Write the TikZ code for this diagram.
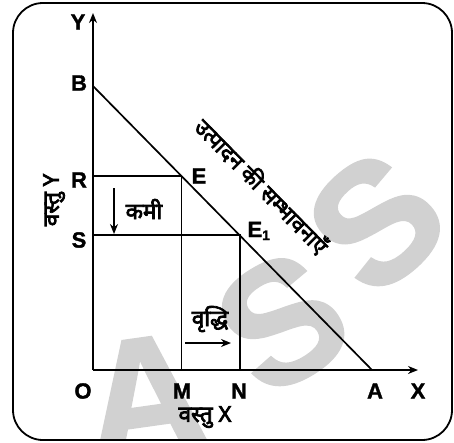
\documentclass[tikz,border=0pt]{standalone}
\usepackage{fontspec}
\setmainfont{Liberation Sans}[BoldFeatures={FakeBold=1.5}]
\newfontfamily\hin[Script=Devanagari,FakeBold=3.4]{Noto Sans}
\usetikzlibrary{arrows.meta}
\begin{document}
\begin{tikzpicture}[x=1pt,y=-1pt,
  lbl/.style={font=\bfseries\fontsize{22}{22}\selectfont, inner sep=0pt},
  hl/.style={font=\hin\fontsize{22.5}{22.5}\selectfont, inner sep=0pt},
  wmk/.style={text=black!18, font=\bfseries\fontsize{170}{170}\selectfont, inner sep=0pt},
  ax/.style={line width=2.8pt},
  thinl/.style={line width=1.6pt},
  tip/.style={-{Stealth[length=10pt,width=8pt]}}
]
\useasboundingbox (0,0) rectangle (454,442);
% watermark
\begin{scope}
\clip[rounded corners=30pt] (13,3) rectangle (452,440);
\node[wmk, rotate=8] (wmA) at (145,397) {A};
\node[wmk, rotate=32] (wmS1) at (282,322) {S};
\node[wmk, rotate=42] (wmS2) at (376,222) {S};
\end{scope}
\draw[line width=1.8pt, rounded corners=30pt] (13,3) rectangle (452,440);
% points
\coordinate (O) at (93,370);
\coordinate (Yt) at (93,13);
\coordinate (Xt) at (418,370);
\coordinate (B) at (93,86);
\coordinate (A) at (372,370);
\coordinate (E) at (181.5,176);
\coordinate (E1) at (240,235);
\coordinate (R) at (93,176);
\coordinate (S) at (93,235);
\coordinate (M) at (181.5,370);
\coordinate (N) at (240,370);
% lines
\draw[thinl] (R) -- (E) -- (M);
\draw[thinl] (S) -- (E1) -- (N);
\draw[line width=1.7pt] (B) -- (A);
\draw[ax, tip] (O) -- (Yt);
\draw[ax, tip] (O) -- (Xt);
% labels
\node[lbl] (lY) at (78,22) {Y};
\node[lbl] (lB) at (79,83) {B};
\node[lbl] (lR) at (79,180) {R};
\node[lbl] (lS) at (79,240) {S};
\node[lbl] (lO) at (83,391) {O};
\node[lbl] (lM) at (182,391) {M};
\node[lbl] (lN) at (239,391) {N};
\node[lbl] (lA) at (375,391) {A};
\node[lbl] (lX) at (418,391) {X};
\node[lbl] (lE) at (199,176) {E};
\node[lbl] (lE1) at (259,231) {E\textsubscript{\fontsize{14}{14}\selectfont 1}};
\node[hl, rotate=90] (vy) at (54,200) {वस्तु {\bfseries\fontsize{22}{22}\selectfont Y}};
\node[hl] (vx) at (205,417) {वस्तु {\bfseries\fontsize{22}{22}\selectfont X}};
\node[hl, font=\hin\fontsize{22}{22}\selectfont, rotate=-45.5] (ppc) at (262,186) {उत्पादन की सम्भावनाएँ};
\node[hl] (kami) at (144,209) {कमी};
\node[hl] (vriddhi) at (210,319) {वृद्धि};
\coordinate (d1) at (114,188);
\coordinate (d2) at (114,234);
\coordinate (r1) at (185,343);
\coordinate (r2) at (231,343);
\draw[thinl, tip] (d1) -- (d2);
\draw[thinl, tip] (r1) -- (r2);
\end{tikzpicture}
\end{document}
